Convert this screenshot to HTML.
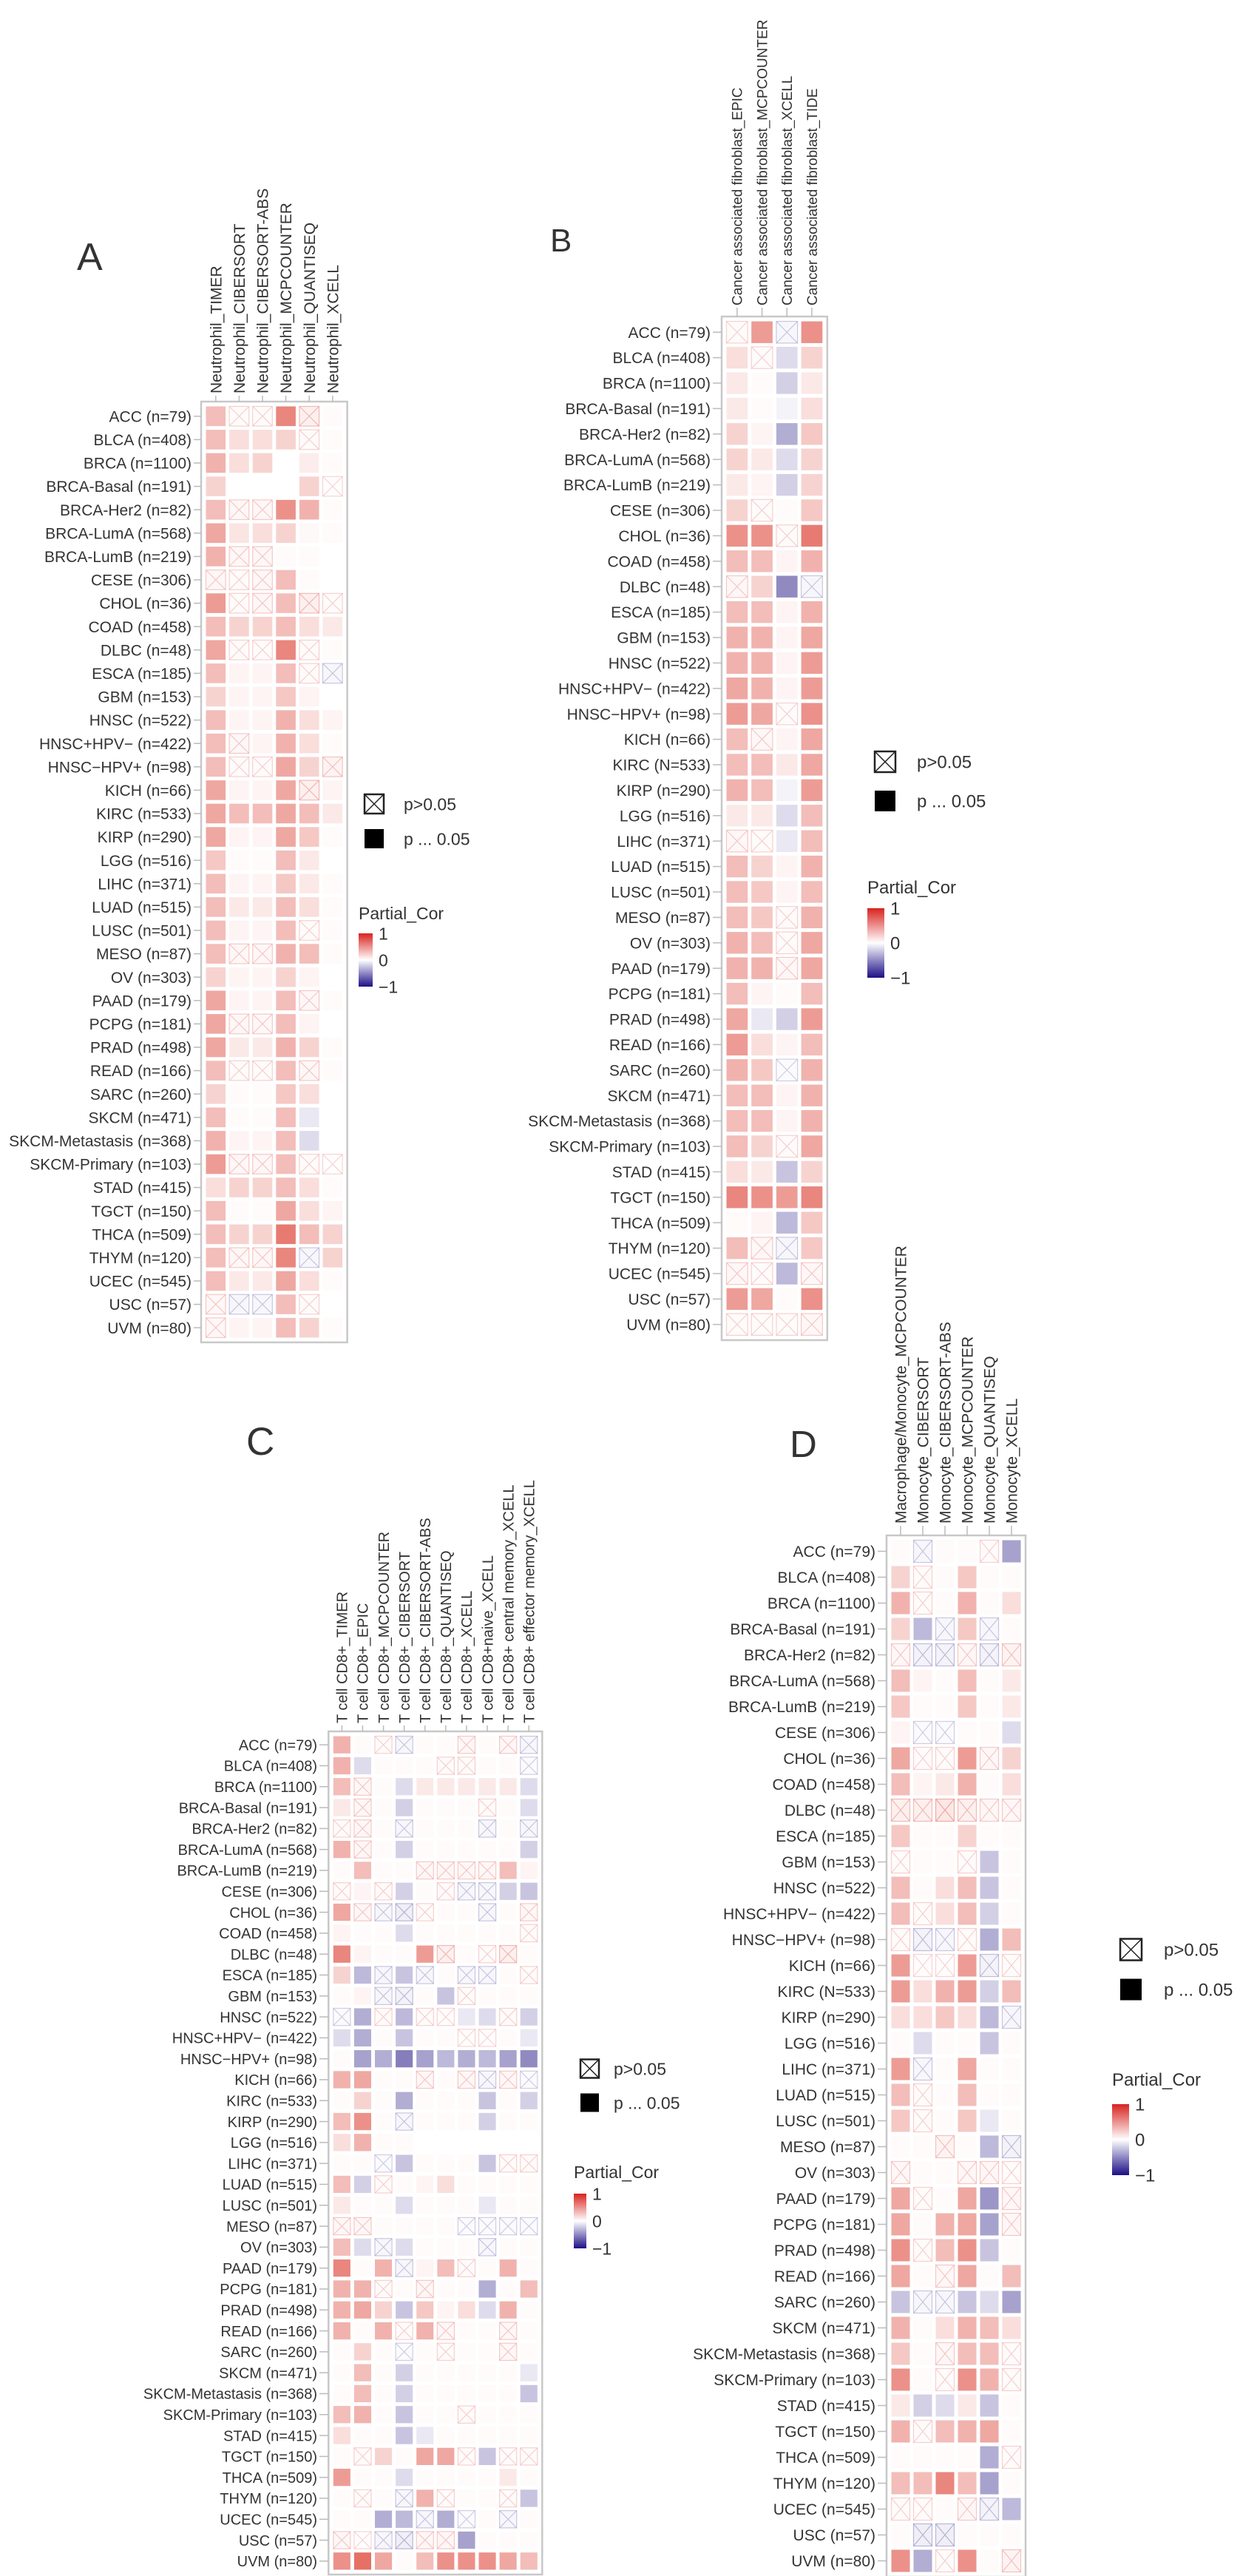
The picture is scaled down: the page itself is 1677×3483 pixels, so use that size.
<!DOCTYPE html>
<html><head><meta charset="utf-8">
<style>
html,body{margin:0;padding:0;background:#fff;}
svg{display:block;}
text{font-family:"Liberation Sans",Arial,sans-serif;fill:#333;}
</style></head>
<body>
<svg id="fig" xmlns="http://www.w3.org/2000/svg" width="1677" height="3483" viewBox="0 0 1677 3483"></svg>
<script>
const rowsStd = ["ACC (n=79)","BLCA (n=408)","BRCA (n=1100)","BRCA-Basal (n=191)","BRCA-Her2 (n=82)","BRCA-LumA (n=568)","BRCA-LumB (n=219)","CESE (n=306)","CHOL (n=36)","COAD (n=458)","DLBC (n=48)","ESCA (n=185)","GBM (n=153)","HNSC (n=522)","HNSC+HPV\u2212 (n=422)","HNSC\u2212HPV+ (n=98)","KICH (n=66)","KIRC (n=533)","KIRP (n=290)","LGG (n=516)","LIHC (n=371)","LUAD (n=515)","LUSC (n=501)","MESO (n=87)","OV (n=303)","PAAD (n=179)","PCPG (n=181)","PRAD (n=498)","READ (n=166)","SARC (n=260)","SKCM (n=471)","SKCM-Metastasis (n=368)","SKCM-Primary (n=103)","STAD (n=415)","TGCT (n=150)","THCA (n=509)","THYM (n=120)","UCEC (n=545)","USC (n=57)","UVM (n=80)"];
const rowsN = rowsStd.map(r => r === "KIRC (n=533)" ? "KIRC (N=533)" : r);

const colsA = ["Neutrophil_TIMER","Neutrophil_CIBERSORT","Neutrophil_CIBERSORT-ABS","Neutrophil_MCPCOUNTER","Neutrophil_QUANTISEQ","Neutrophil_XCELL"];
const valsA = [
[0.3,0.05,0.05,0.55,0.2,0.02],[0.3,0.15,0.15,0.2,0.05,0.02],[0.35,0.15,0.2,0,0.08,0.02],[0.2,0,0,0,0.2,0.02],[0.3,0.1,0.1,0.5,0.35,0.02],
[0.4,0.12,0.15,0.2,0.03,0.02],[0.35,0.1,0.1,0.02,0.02,0],[0.1,0.05,0.1,0.3,0.02,0],[0.45,0.05,0.1,0.3,0.2,0.05],[0.3,0.2,0.2,0.3,0.15,0.1],
[0.4,0.05,0.05,0.55,0.05,0.02],[0.3,0.05,0.05,0.3,0.05,-0.1],[0.2,0.05,0.05,0.25,0.05,0],[0.3,0.05,0.05,0.35,0.15,0.05],[0.3,0.1,0.05,0.35,0.15,0.02],
[0.3,0.05,0.05,0.4,0.2,0.15],[0.4,0.05,0.05,0.4,0.2,0.05],[0.4,0.3,0.3,0.4,0.3,0.1],[0.4,0.05,0.05,0.4,0.25,0.02],[0.25,0.02,0.02,0.3,0.1,0],
[0.3,0.05,0.05,0.25,0.1,0.02],[0.3,0.1,0.1,0.3,0.15,0.02],[0.3,0.05,0.05,0.3,0.05,0.02],[0.3,0.1,0.1,0.35,0.3,0.02],[0.2,0.05,0.05,0.2,0.05,0],
[0.4,0.05,0.05,0.3,0.1,0.02],[0.4,0.1,0.1,0.3,0.05,0],[0.4,0.1,0.1,0.35,0.2,0.02],[0.3,0.05,0.05,0.3,0.1,0.02],[0.2,0.02,0.02,0.25,0.15,0],
[0.3,0.02,0.02,0.3,-0.1,0],[0.35,0.05,0.05,0.3,-0.15,0],[0.45,0.1,0.1,0.3,0.05,0.02],[0.15,0.2,0.2,0.3,0.15,0.02],[0.3,0.02,0.02,0.4,0.15,0.05],
[0.3,0.2,0.2,0.6,0.3,0.2],[0.3,0.1,0.1,0.55,-0.1,0.2],[0.3,0.1,0.1,0.4,0.15,0.02],[0.1,-0.1,-0.1,0.3,0.05,0],[0.1,0.05,0.05,0.3,0.2,0.02]];
const sigA = [
[1,0,0,1,0,1],[1,1,1,1,0,1],[1,1,1,1,1,1],[1,1,1,1,1,0],[1,0,0,1,1,1],
[1,1,1,1,1,1],[1,0,0,1,1,1],[0,0,0,1,1,1],[1,0,0,1,0,0],[1,1,1,1,1,1],
[1,0,0,1,0,1],[1,1,1,1,0,0],[1,1,1,1,1,1],[1,1,1,1,1,1],[1,0,1,1,1,1],
[1,0,0,1,1,0],[1,1,1,1,0,1],[1,1,1,1,1,1],[1,1,1,1,1,1],[1,1,1,1,1,1],
[1,1,1,1,1,1],[1,1,1,1,1,1],[1,1,1,1,0,1],[1,0,0,1,1,1],[1,1,1,1,1,1],
[1,1,1,1,0,1],[1,0,0,1,1,1],[1,1,1,1,1,1],[1,0,0,1,0,1],[1,1,1,1,1,1],
[1,1,1,1,1,1],[1,1,1,1,1,1],[1,0,0,1,0,0],[1,1,1,1,1,1],[1,1,1,1,1,1],
[1,1,1,1,1,1],[1,0,0,1,0,1],[1,1,1,1,1,1],[0,0,0,1,0,1],[0,1,1,1,1,1]];

const colsB = ["Cancer associated fibroblast_EPIC","Cancer associated fibroblast_MCPCOUNTER","Cancer associated fibroblast_XCELL","Cancer associated fibroblast_TIDE"];
const valsB = [
[0.05,0.45,-0.1,0.5],[0.15,0.05,-0.15,0.2],[0.1,0.02,-0.2,0.1],[0.1,0.02,-0.05,0.15],[0.2,0.05,-0.35,0.25],
[0.2,0.1,-0.15,0.2],[0.1,0.05,-0.2,0.2],[0.2,0.05,0.02,0.25],[0.5,0.5,0.05,0.6],[0.3,0.3,0.05,0.35],
[0.1,0.2,-0.5,-0.1],[0.3,0.3,0.05,0.35],[0.35,0.35,0.05,0.4],[0.35,0.35,0.05,0.45],[0.4,0.35,0.05,0.45],
[0.45,0.4,0.05,0.5],[0.3,0.1,0.05,0.4],[0.3,0.3,0.1,0.4],[0.35,0.3,-0.05,0.45],[0.1,0.1,-0.15,0.3],
[0.1,0.05,-0.1,0.3],[0.3,0.2,0.05,0.35],[0.3,0.25,0.05,0.3],[0.3,0.25,0.05,0.35],[0.35,0.3,0.05,0.4],
[0.35,0.35,0.1,0.4],[0.3,0.05,0.02,0.3],[0.4,-0.1,-0.2,0.45],[0.45,0.15,0.05,0.3],[0.35,0.25,-0.05,0.35],
[0.3,0.3,0.05,0.35],[0.3,0.3,0.05,0.35],[0.3,0.2,0.05,0.4],[0.15,0.1,-0.25,0.2],[0.55,0.5,0.45,0.55],
[0.02,0.05,-0.3,0.25],[0.3,0.1,-0.1,0.25],[0.1,0.05,-0.3,0.1],[0.45,0.4,0.02,0.5],[0.05,0.05,0.05,0.1]];
const sigB = [
[0,1,0,1],[1,0,1,1],[1,1,1,1],[1,1,1,1],[1,1,1,1],
[1,1,1,1],[1,1,1,1],[1,0,1,1],[1,1,0,1],[1,1,1,1],
[0,1,1,0],[1,1,1,1],[1,1,1,1],[1,1,1,1],[1,1,1,1],
[1,1,0,1],[1,0,1,1],[1,1,1,1],[1,1,1,1],[1,1,1,1],
[0,0,1,1],[1,1,1,1],[1,1,1,1],[1,1,0,1],[1,1,0,1],
[1,1,0,1],[1,1,1,1],[1,1,1,1],[1,1,1,1],[1,1,0,1],
[1,1,1,1],[1,1,1,1],[1,1,0,1],[1,1,1,1],[1,1,1,1],
[1,1,1,1],[1,0,0,1],[0,0,1,0],[1,1,1,1],[0,0,0,0]];

const colsC = ["T cell CD8+_TIMER","T cell CD8+_EPIC","T cell CD8+_MCPCOUNTER","T cell CD8+_CIBERSORT","T cell CD8+_CIBERSORT-ABS","T cell CD8+_QUANTISEQ","T cell CD8+_XCELL","T cell CD8+naive_XCELL","T cell CD8+ central memory_XCELL","T cell CD8+ effector memory_XCELL"];
const valsC = [
[0.35,0.02,0.05,-0.1,0.02,0.02,0.1,0.02,0.1,-0.1],
[0.35,-0.15,0.02,0.02,0.02,0.05,0.05,0.02,0.02,-0.05],
[0.3,0.1,0.02,-0.15,0.1,0.1,0.1,0.1,0.1,-0.15],
[0.1,0.1,0.02,-0.2,0.02,0.02,0.02,0.05,0.02,-0.15],
[0.05,0.1,0.02,-0.1,0.02,0.02,0.02,-0.1,0.02,-0.1],
[0.35,0.1,0.02,-0.2,0.02,0.02,0.02,0.02,0.02,-0.2],
[0.02,0.3,0.02,0.02,0.1,0.1,0.1,0.1,0.3,0.05],
[0.05,0.05,0.05,-0.2,0.02,0.05,-0.1,-0.1,-0.2,-0.25],
[0.4,0.1,-0.1,-0.2,0.05,0.02,0.02,-0.1,0.02,0.1],
[0.05,0.02,0.02,-0.15,0.02,0.02,0.02,0.02,0.02,0.05],
[0.55,0.05,0.02,0.02,0.45,0.2,0.02,0.05,0.2,0.02],
[0.2,-0.3,-0.1,-0.25,-0.1,0.02,-0.1,-0.1,0.02,0.05],
[0.02,0.05,-0.1,-0.15,0.02,-0.25,0.05,0.02,0.02,0.02],
[-0.05,-0.35,0.05,-0.3,0.05,0.02,-0.1,-0.15,0.05,-0.2],
[-0.15,-0.35,0.02,-0.25,0.02,0.02,0.02,0.02,0.02,-0.1],
[0.02,-0.4,-0.35,-0.55,-0.4,-0.3,-0.35,-0.3,-0.4,-0.5],
[0.35,0.4,0.02,0.02,0.1,0.02,0.1,-0.1,0.1,-0.05],
[0.02,0.2,0.02,-0.35,0.02,0.02,0.02,-0.25,0.02,-0.2],
[0.3,0.5,0.02,-0.1,0.02,0.02,0.02,-0.2,0.02,0.02],
[0.15,0.35,0.02,0.02,0,0,0,0,0,0],
[0.02,0.02,-0.05,-0.25,0.02,0.02,0.02,-0.25,0.05,0.05],
[0.3,-0.2,0.05,0.02,0.05,0.15,0.02,0.02,0.02,0.02],
[0.1,0.02,0.02,-0.15,0.02,0.02,0.02,-0.1,0.02,0.02],
[0.1,0.1,0.02,0.02,0.02,0.02,-0.05,-0.05,-0.05,-0.05],
[0.3,-0.15,-0.1,-0.15,0.02,0.02,0.02,-0.1,0.02,0.02],
[0.55,0.02,0.35,-0.1,0.05,0.3,0.05,0.02,0.35,0.02],
[0.35,0.35,0.05,0.02,0.1,0.02,0.02,-0.35,0.02,0.3],
[0.35,0.4,0.2,-0.25,0.25,0.05,0.15,-0.15,0.35,0.02],
[0.35,0.02,0.35,0.05,0.35,0.1,0.02,0.02,0.1,0.02],
[0.02,0.2,0.02,-0.05,0.02,0.05,0.02,0.02,0.1,0.02],
[0.02,0.3,0.02,-0.2,0.02,0.02,0.02,0.02,0.02,-0.1],
[0.02,0.3,0.02,-0.2,0.02,0.02,0.02,0.02,0.02,-0.25],
[0.3,0.35,0.02,-0.25,0.02,0.02,0.05,0.02,0.02,0.02],
[0.15,0.02,0.02,-0.25,-0.1,0.02,0.02,0.02,0.02,0.02],
[0.02,0.05,0.2,0.02,0.4,0.4,0.05,-0.25,0.05,0.05],
[0.45,0.02,0.02,-0.15,0.02,0.02,0.02,0.02,0.1,0.02],
[0.02,0.05,0.02,-0.1,0.35,0.05,0.02,0.02,0.05,-0.25],
[0.02,0.02,-0.35,-0.3,-0.1,-0.35,-0.05,0.02,-0.1,0.02],
[0.1,0.02,-0.1,-0.2,0.1,0.1,-0.4,0.02,0.02,0.02],
[0.5,0.65,0.4,0.02,0.3,0.5,0.5,0.5,0.4,0.3]];
const sigC = [
[1,1,0,0,1,1,0,1,0,0],[1,1,1,1,1,0,0,1,1,0],[1,0,1,1,1,1,1,1,1,1],[1,0,1,1,1,1,1,0,1,1],[0,0,1,0,1,1,1,0,1,0],
[1,0,1,1,1,1,1,1,1,1],[1,1,1,1,0,0,0,0,1,1],[0,1,0,1,1,0,0,0,1,1],[1,0,0,0,0,1,1,0,1,0],[1,1,1,1,1,1,1,1,1,0],
[1,1,1,1,1,0,1,0,0,1],[1,1,0,1,0,1,0,0,1,0],[1,1,0,0,1,1,0,1,1,1],[0,1,0,1,0,0,1,1,0,1],[1,1,1,1,1,1,0,0,1,1],
[1,1,1,1,1,1,1,1,1,1],[1,1,1,1,0,1,0,0,0,0],[1,1,1,1,1,1,1,1,1,1],[1,1,1,0,1,1,1,1,1,1],[1,1,1,1,1,1,1,1,1,1],
[1,1,0,1,1,1,1,1,0,0],[1,1,0,1,1,1,1,1,1,1],[1,1,1,1,1,1,1,1,1,1],[0,0,1,1,1,1,0,0,0,0],[1,1,0,1,1,1,1,0,1,1],
[1,1,1,0,1,1,0,1,1,1],[1,1,0,1,0,1,1,1,1,1],[1,1,1,1,1,1,1,1,1,1],[1,1,1,0,1,0,1,1,0,1],[1,1,1,0,1,0,1,1,0,1],
[1,1,1,1,1,1,1,1,1,1],[1,1,1,1,1,1,1,1,1,1],[1,1,1,1,1,1,0,1,1,1],[1,1,1,1,1,1,1,1,1,1],[1,0,1,1,1,1,0,1,0,0],
[1,1,1,1,1,1,1,1,1,1],[1,0,1,0,1,0,1,1,0,1],[1,1,1,1,0,1,0,1,0,1],[0,0,0,0,0,0,1,1,1,1],[1,1,1,1,1,1,1,1,1,1]];

const colsD = ["Macrophage/Monocyte_MCPCOUNTER","Monocyte_CIBERSORT","Monocyte_CIBERSORT-ABS","Monocyte_MCPCOUNTER","Monocyte_QUANTISEQ","Monocyte_XCELL"];
const valsD = [
[0.02,-0.1,0.02,0.02,0.05,-0.4],[0.2,0.05,0.02,0.25,0.02,0.02],[0.35,0.05,0.02,0.35,0.02,0.15],[0.2,-0.3,-0.1,0.25,-0.1,0.02],[0.1,-0.15,-0.15,0.1,-0.15,0.15],
[0.3,0.05,0.02,0.3,0.02,0.1],[0.25,0.02,0.02,0.25,0.02,0.1],[0.05,-0.05,-0.05,0.02,0.02,-0.15],[0.4,0.05,0.05,0.45,0.1,0.2],[0.3,0.05,0.1,0.35,0.02,0.15],
[0.2,0.2,0.3,0.2,0.1,0.1],[0.25,0.02,0.02,0.2,0.02,0.02],[0.05,0.02,0.02,0.05,-0.25,0.02],[0.3,0.02,0.15,0.3,-0.25,0.02],[0.3,0.05,0.15,0.3,-0.2,0.02],
[0.05,-0.15,-0.1,0.05,-0.35,0.3],[0.45,0.02,0.02,0.45,-0.15,0.05],[0.45,0.15,0.35,0.45,-0.2,0.3],[0.15,0.15,0.25,0.15,-0.3,-0.1],[0.02,-0.15,0.02,0.02,-0.25,0.02],
[0.45,-0.1,0.02,0.4,0.02,0.02],[0.3,0.05,0.02,0.3,0.02,0.02],[0.25,0.05,0.02,0.25,-0.1,0.02],[0.02,0.02,0.15,0.02,-0.3,-0.15],[0.1,0.02,0.02,0.1,0.1,0.05],
[0.4,0.05,0.02,0.4,-0.45,0.1],[0.4,0.02,0.35,0.4,-0.4,0.1],[0.5,0.05,0.3,0.5,-0.25,0.02],[0.4,0.02,0.1,0.4,0.02,0.3],[-0.25,-0.1,-0.1,-0.25,-0.15,-0.4],
[0.35,0.02,0.15,0.35,0.3,0.15],[0.25,0.02,0.1,0.3,0.3,0.05],[0.5,0.02,0.05,0.5,0.35,0.05],[0.1,-0.2,-0.15,0.1,-0.25,0.02],[0.35,0.05,0.3,0.35,0.4,0.02],
[0.02,0.02,0.02,0.02,-0.35,0.05],[0.3,0.3,0.55,0.3,-0.4,0.02],[0.05,0.05,0.02,0.1,-0.15,-0.3],[0.02,-0.2,-0.2,0.02,0.02,0.02],[0.5,-0.35,0.05,0.5,0.02,0.15]];
const sigD = [
[1,0,1,1,0,1],[1,0,1,1,1,1],[1,0,1,1,1,1],[1,1,0,1,0,1],[0,0,0,0,0,0],
[1,1,1,1,1,1],[1,1,1,1,1,1],[1,0,0,1,1,1],[1,0,0,1,0,1],[1,1,1,1,1,1],
[0,0,0,0,0,0],[1,1,1,1,1,1],[0,1,1,0,1,1],[1,1,1,1,1,1],[1,0,1,1,1,1],
[0,0,0,0,1,1],[1,0,0,1,0,0],[1,1,1,1,1,1],[1,1,1,1,1,0],[1,1,1,1,1,1],
[1,0,1,1,1,1],[1,0,1,1,1,1],[1,0,1,1,1,1],[1,1,0,1,1,0],[0,1,1,0,0,0],
[1,0,1,1,1,0],[1,1,1,1,1,0],[1,0,1,1,1,1],[1,1,0,1,1,1],[1,0,0,1,1,1],
[1,1,1,1,1,1],[1,1,0,1,1,0],[1,1,0,1,1,0],[1,1,1,1,1,1],[1,0,1,1,1,1],
[1,1,1,1,1,0],[1,1,1,1,1,1],[0,0,1,0,0,1],[1,0,0,1,1,1],[1,1,0,1,1,0]];

const NS = "http://www.w3.org/2000/svg";
const svg = document.getElementById("fig");
function mk(tag, attrs, parent){ const e=document.createElementNS(NS,tag); for(const k in attrs) e.setAttribute(k,attrs[k]); (parent||svg).appendChild(e); return e; }
function col(v){
  const t=Math.max(-1,Math.min(1,v));
  let c;
  if(t>=0){ c=[255-(255-215)*t,255-(255-35)*t,255-(255-20)*t]; }
  else { const a=-t; c=[255-(255-35)*a,255-(255-20)*a,255-(255-130)*a]; }
  return "rgb("+c.map(x=>Math.round(x)).join(",")+")";
}

function panel(cfg){
  const g=mk("g",{});
  
  
  const nR=cfg.rows.length, nC=cfg.cols.length;
  const xs=i=>cfg.L+cfg.cw*(i+0.5), ys=j=>cfg.T+cfg.rh*(j+0.5);
  const lt=mk("text",{x:cfg.letter[0],y:cfg.letter[1],"font-size":cfg.letter[2]},g); lt.textContent=cfg.letterText;
  
  
  const bx=mk("rect",{x:cfg.L-4,y:cfg.T-4,width:cfg.cw*nC+8,height:cfg.rh*nR+8,fill:"#fff",stroke:"#c8c8c8","stroke-width":2.5},g);
  
  
  for(let j=0;j<nR;j++){
    for(let i=0;i<nC;i++){
      const v=cfg.vals[j][i], s=cfg.sig[j][i];
      const w=cfg.cw-5, h=cfg.rh-5, x=xs(i)-w/2, y=ys(j)-h/2;
      if(s){
        const r=mk("rect",{x:x,y:y,width:w,height:h,fill:col(v)},g);
        
        
      } else {
        const cg=mk("g",{},g);
        
        
        const sc=col(Math.sign(v||0.01)*(Math.abs(v)+0.3));
        mk("rect",{x:x,y:y,width:w,height:h,fill:col(v*0.35),stroke:sc,"stroke-width":1.2,"stroke-opacity":0.6},cg);
        mk("path",{d:`M${x} ${y}L${x+w} ${y+h}M${x+w} ${y}L${x} ${y+h}`,stroke:sc,"stroke-width":1.2,"stroke-opacity":0.6,fill:"none"},cg);
      }
    }
  }
  for(let j=0;j<nR;j++){
    const t=mk("text",{x:cfg.labR,y:ys(j)+cfg.fs*0.36,"font-size":cfg.fs,"text-anchor":"end"},g); t.textContent=cfg.rows[j];
    
    
    mk("line",{x1:cfg.labR+3,x2:cfg.L-4,y1:ys(j),y2:ys(j),stroke:"#bbb","stroke-width":1.5},g);
  }
  const hfs=cfg.hfs||cfg.fs;
  for(let i=0;i<nC;i++){
    const yb=cfg.hb;
    const t=mk("text",{x:0,y:0,"font-size":hfs,transform:`translate(${xs(i)+hfs*0.36},${yb}) rotate(-90)`},g); t.textContent=cfg.cols[i];
    
    
    mk("line",{x1:xs(i),x2:xs(i),y1:yb+3,y2:cfg.T-4,stroke:"#bbb","stroke-width":1.5},g);
  }
  const lg=cfg.leg, lgG=mk("g",{},g);
  
  
  const q=lg.sz;
  mk("rect",{x:lg.x,y:lg.y1-q/2,width:q,height:q,fill:"#fff",stroke:"#222","stroke-width":2.5},lgG);
  mk("path",{d:`M${lg.x} ${lg.y1-q/2}L${lg.x+q} ${lg.y1+q/2}M${lg.x+q} ${lg.y1-q/2}L${lg.x} ${lg.y1+q/2}`,stroke:"#222","stroke-width":1.5},lgG);
  const t1=mk("text",{x:lg.tx,y:lg.y1+lg.fs*0.36,"font-size":lg.fs},lgG); t1.textContent="p>0.05";
  mk("rect",{x:lg.x,y:lg.y2-q/2,width:q,height:q,fill:"#000"},lgG);
  const t2=mk("text",{x:lg.tx,y:lg.y2+lg.fs*0.36,"font-size":lg.fs},lgG); t2.textContent="p ... 0.05";
  const t3=mk("text",{x:lg.cx,y:lg.pcY,"font-size":lg.fs},lgG); t3.textContent="Partial_Cor";
  const gid="grad"+cfg.letterText;
  const defs=mk("defs",{},lgG);
  const gr=mk("linearGradient",{id:gid,x1:0,y1:0,x2:0,y2:1},defs);
  mk("stop",{offset:"0","stop-color":"#d8231f"},gr);
  mk("stop",{offset:"0.5","stop-color":"#ffffff"},gr);
  mk("stop",{offset:"1","stop-color":"#1c0f86"},gr);
  mk("rect",{x:lg.cx,y:lg.cbT,width:lg.cbW,height:lg.cbH,fill:`url(#${gid})`},lgG);
  const tickLabels=["1","0","\u22121"];
  tickLabels.forEach((s,k)=>{
    const tt=mk("text",{x:lg.cx+lg.cbW+8,y:lg.cbT+lg.cbH*k/2+lg.fs*0.36,"font-size":lg.fs},lgG); tt.textContent=s;
  });
}

panel({name:"panel-a-neutrophil-heatmap",letterText:"A",letter:[104,365,52],rows:rowsStd,cols:colsA,vals:valsA,sig:sigA,
  L:276,T:547,cw:31.6,rh:31.6,labR:259,hb:532,fs:21,
  leg:{x:493,tx:546,y1:1087,y2:1134,sz:26,fs:23,cx:485,pcY:1243,cbT:1262,cbW:19,cbH:72}});
panel({name:"panel-b-caf-heatmap",letterText:"B",letter:[744,340,44],rows:rowsN,cols:colsB,vals:valsB,sig:sigB,
  L:980,T:432,cw:33.7,rh:34.4,labR:961,hb:413,fs:21,hfs:19,
  leg:{x:1183,tx:1240,y1:1030,y2:1083,sz:28,fs:24,cx:1173,pcY:1208,cbT:1228,cbW:23,cbH:94}});
panel({name:"panel-c-cd8-heatmap",letterText:"C",letter:[333,1967,53],rows:rowsStd,cols:colsC,vals:valsC,sig:sigC,
  L:448.3,T:2345,cw:28.1,rh:28.3,labR:429,hb:2330,fs:20,
  leg:{x:785,tx:830,y1:2797,y2:2843,sz:25,fs:23,cx:776,pcY:2945,cbT:2966,cbW:17,cbH:74}});
panel({name:"panel-d-monocyte-heatmap",letterText:"D",letter:[1068,1970,51],rows:rowsN,cols:colsD,vals:valsD,sig:sigD,
  L:1203,T:2080,cw:30,rh:35,labR:1184,hb:2060,fs:21,
  leg:{x:1515,tx:1574,y1:2636,y2:2690,sz:29,fs:24,cx:1504,pcY:2820,cbT:2845,cbW:23,cbH:96}});
</script>
</body></html>
